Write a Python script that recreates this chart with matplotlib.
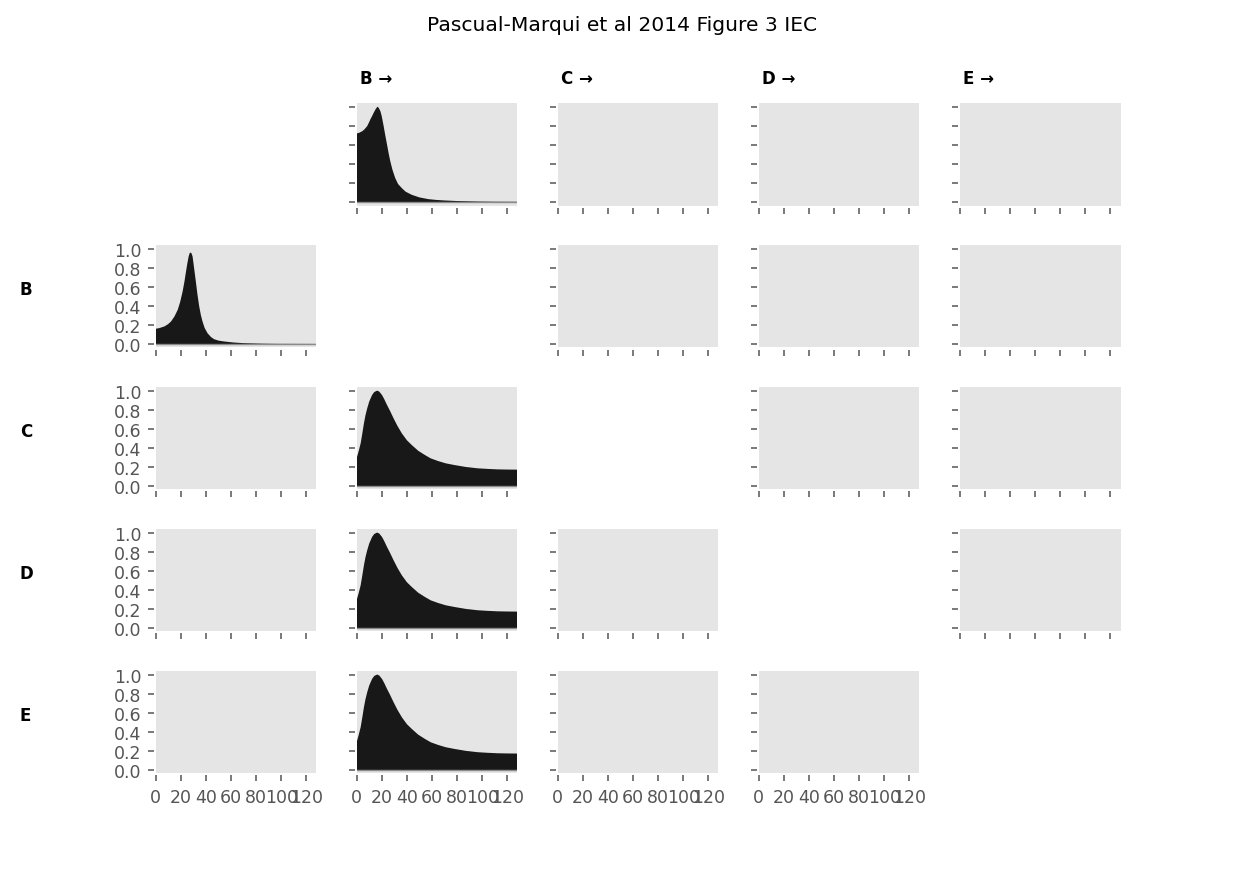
import numpy as np
import matplotlib
matplotlib.use('Agg')
import matplotlib.pyplot as plt

title = 'Pascual-Marqui et al 2014 Figure 3 IEC'
row_labels = ['', 'B', 'C', 'D', 'E']
col_labels = ['', 'B →', 'C →', 'D →', 'E →']
xticks = [0, 20, 40, 60, 80, 100, 120]
yticks = [0.0, 0.2, 0.4, 0.6, 0.8, 1.0]

# row 0 / column 1
freq_b_to_a = [0, 2, 4.5, 6, 8.4, 10, 11, 12.3, 13.5, 15.0, 16.5, 17.5, 18.9, 20, 21.5, 22.8, 24.2,
               25.5, 26.8, 28.5, 30.7, 33, 36.0, 39, 43.9, 50, 57.0, 63, 70.1, 80, 96.4, 110, 128]
iec_b_to_a = [0.72, 0.727, 0.744, 0.76, 0.797, 0.84, 0.87, 0.902, 0.935, 0.972, 1.0, 0.99, 0.954, 0.9,
              0.797, 0.70, 0.603, 0.51, 0.428, 0.34, 0.253, 0.19, 0.147, 0.11, 0.077, 0.05, 0.032,
              0.024, 0.018, 0.012, 0.007, 0.005, 0.004]

# row 1 / column 0
freq_a_to_b = [0, 3, 7.1, 10, 12.3, 15, 17.6, 19.5, 21.5, 23, 24.2, 25.3, 26.3, 27, 27.8, 28.6, 29.4,
               30.5, 32.0, 33.3, 34.7, 36, 37.3, 39, 41.3, 44, 46.5, 50, 54.4, 62, 70.1, 85, 96.4, 128]
iec_a_to_b = [0.161, 0.168, 0.186, 0.21, 0.238, 0.29, 0.36, 0.44, 0.552, 0.66, 0.762, 0.85, 0.919,
              0.95, 0.961, 0.95, 0.919, 0.81, 0.657, 0.52, 0.395, 0.305, 0.238, 0.17, 0.115, 0.075,
              0.052, 0.037, 0.028, 0.017, 0.01, 0.005, 0.003, 0.002]

# rows 2-4 / column 1
freq_b_to_x = [0, 1.5, 3.2, 4.5, 5.8, 7, 8.4, 10, 12.3, 14, 16.3, 18, 20.2, 22, 24.2, 26.5, 29.4,
               32.5, 36.0, 40, 43.9, 49, 54.4, 59, 64.9, 71, 78.0, 87, 96.4, 104, 112.2, 120, 128]
iec_b_to_c = [0.29, 0.36, 0.448, 0.55, 0.657, 0.74, 0.814, 0.885, 0.954, 0.985, 1.0, 0.99, 0.954, 0.91,
              0.849, 0.79, 0.71, 0.63, 0.552, 0.48, 0.43, 0.37, 0.325, 0.29, 0.262, 0.238, 0.22,
              0.2, 0.186, 0.18, 0.175, 0.173, 0.172]
iec_b_to_d = list(iec_b_to_c)
iec_b_to_e = list(iec_b_to_c)

spectra = {
    (0, 1): (freq_b_to_a, iec_b_to_a),
    (1, 0): (freq_a_to_b, iec_a_to_b),
    (2, 1): (freq_b_to_x, iec_b_to_c),
    (3, 1): (freq_b_to_x, iec_b_to_d),
    (4, 1): (freq_b_to_x, iec_b_to_e),
}

W, H = 1245, 870
fig, axes = plt.subplots(5, 5, figsize=(W / 100, H / 100), dpi=100,
                         gridspec_kw=dict(left=0.125, right=0.9, top=0.88, bottom=0.11,
                                          wspace=0.25, hspace=0.39))
tick_color = '#555555'
for i in range(5):
    for j in range(5):
        ax = axes[i, j]
        if i == j:
            ax.axis('off')
            continue
        ax.set_facecolor('#e5e5e5')
        for s in ax.spines.values():
            s.set_visible(False)
            s.set_position(('outward', 1.5))
        if (i, j) in spectra:
            f, v = spectra[(i, j)]
            ax.fill_between(f, 0, v, facecolor='#181818', edgecolor='none', lw=0)
            ax.axhline(0, color='#8a8a8a', lw=1.0)
        ax.set_xlim(0, 128)
        ax.set_ylim(-0.035, 1.035)
        ax.set_xticks(xticks)
        ax.set_yticks(yticks)
        ax.tick_params(direction='out', length=4.5, width=1.1, color=tick_color,
                       labelcolor=tick_color, labelsize=12.5, pad=4.4)
        if j == 0:
            ax.set_yticklabels(['%.1f' % t for t in yticks])
        else:
            ax.set_yticklabels([])
        if i == 4:
            ax.set_xticklabels([str(t) for t in xticks])
        else:
            ax.set_xticklabels([])
        ax.grid(False)

fig.suptitle(title, fontsize=14.6, y=0.982)
for i in range(1, 5):
    pos = axes[i, 4 if i != 4 else 0].get_position()
    yc = (pos.y0 + pos.y1) / 2
    fig.text(20 / W, yc + 7 / H, row_labels[i], fontweight='bold', fontsize=12, ha='left', va='center')
for j in range(1, 5):
    pos = axes[0, j].get_position()
    fig.text(pos.x0 + 3 / W, pos.y1 + 25 / H, col_labels[j], fontweight='bold', fontsize=12,
             ha='left', va='center')

fig.savefig('out.png', dpi=100)
